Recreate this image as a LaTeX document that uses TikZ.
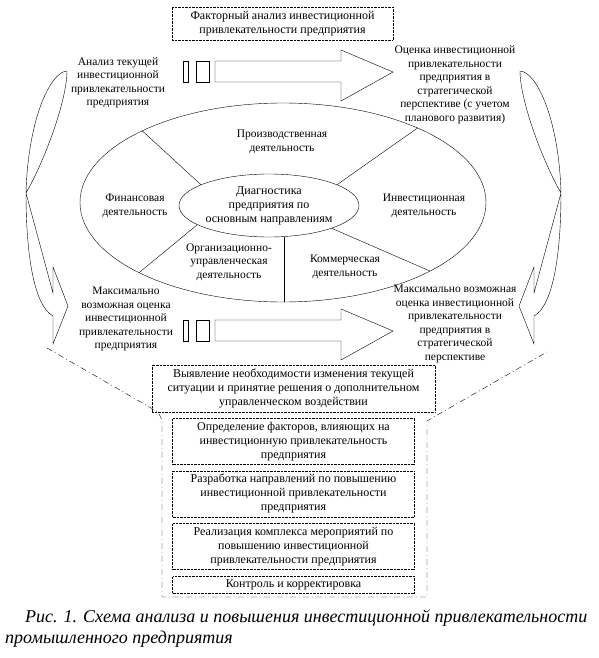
\documentclass[tikz,border=0pt]{standalone}
\usepackage{fontspec}
\setmainfont{Liberation Serif}
\usetikzlibrary{positioning, shapes.geometric}

\begin{document}
\begin{tikzpicture}[
    x=1pt, y=-1pt,
    node distance=6pt,
    txt/.style={
        align=center,
        inner sep=0pt,
        font=\fontsize{11.5}{13.5}\selectfont
    },
    dotbox/.style={
        draw,
        densely dotted,
        rectangle,
        align=center,
        inner sep=0pt,
        font=\fontsize{12}{14}\selectfont
    },
    stepbox/.style={
        dotbox,
        minimum width=242pt,
        minimum height=46pt
    },
    oval/.style={
        draw,
        ellipse,
        inner sep=0pt,
        align=center
    },
    blockarrow/.style={draw, line join=miter},
    frame/.style={dash pattern=on 6pt off 3pt on 1pt off 3pt}
]
\useasboundingbox (0,0) rectangle (599,658);

% Top block
\node[dotbox, minimum width=221pt, minimum height=33pt] (factor) at (282.5,23.5)
    {Факторный анализ инвестиционной\\привлекательности предприятия};

% Texts beside the arrows
\node[txt] (nowleft) at (118,83) {Анализ текущей\\инвестиционной\\привлекательности\\предприятия};
\node[txt] (planright) at (455,85) {Оценка инвестиционной\\привлекательности\\предприятия в\\стратегической\\перспективе (с учетом\\планового развития)};
\node[txt] (maxleft) at (126,319) {Максимально\\возможная оценка\\инвестиционной\\привлекательности\\предприятия};
\node[txt] (maxright) at (455,324) {Максимально возможная\\оценка инвестиционной\\привлекательности\\предприятия в\\стратегической\\перспективе};

% Block arrows
\foreach \y in {72,331} {
    \draw[blockarrow] (183,\y-11) rectangle (188,\y+10);
    \draw[blockarrow] (196,\y-11) rectangle (209,\y+10);
    \draw[blockarrow] (215,\y-11) -- (341,\y-11) -- (341,\y-22) -- (393,\y)
        -- (341,\y+29) -- (341,\y+10) -- (215,\y+10) -- cycle;
}

% Ellipses
\node[oval, minimum width=406pt, minimum height=199pt] (areas) at (283,202.5) {};
\node[oval, minimum width=180pt, minimum height=63pt, font=\fontsize{12}{14}\selectfont] (diag) at (269,205.5)
    {Диагностика\\предприятия по\\основным направлениям};

\draw (diag.163) -- (areas.153);
\draw (diag.17) -- (areas.29);
\draw (diag.195) -- (areas.206);
\draw (diag.340) -- (areas.335);
\draw (diag.296) -- (diag.296 |- areas.south);

\node[txt] (prod) at (282,142) {Производственная\\деятельность};
\node[txt] (fin) at (135,206) {Финансовая\\деятельность};
\node[txt] (inv) at (424,206) {Инвестиционная\\деятельность};
\node[txt] (org) at (229,262) {Организационно-\\управленческая\\деятельность};
\node[txt] (com) at (345,267) {Коммерческая\\деятельность};

% Curved arrows on both sides
\draw[line join=miter] (67,71) .. controls (50,72) and (28,120) .. (26,193)
    -- (53,293) -- (53,267) -- (68,306) -- (53,344) -- (53,316)
    .. controls (33,305) and (26,250) .. (26,193)
    .. controls (45,160) and (67,100) .. (67,71);
\begin{scope}[xshift=587pt, xscale=-1]
\draw[line join=miter] (67,71) .. controls (50,72) and (28,120) .. (26,193)
    -- (53,293) -- (53,267) -- (68,306) -- (53,344) -- (53,316)
    .. controls (33,305) and (26,250) .. (26,193)
    .. controls (45,160) and (67,100) .. (67,71);
\end{scope}

% Lower part
\node[dotbox, minimum width=283pt, minimum height=47pt] (reveal) at (293.5,388.5)
    {Выявление необходимости изменения текущей\\ситуации и принятие решения о дополнительном\\управленческом воздействии};
\node[stepbox, below=6pt of reveal] (step1) {Определение факторов, влияющих на\\инвестиционную привлекательность\\предприятия};
\node[stepbox, below=6pt of step1] (step2) {Разработка направлений по повышению\\инвестиционной привлекательности\\предприятия};
\node[stepbox, below=6pt of step2] (step3) {Реализация комплекса мероприятий по\\повышению инвестиционной\\привлекательности предприятия};
\node[stepbox, minimum height=17pt, below=7pt of step3] (step4) {Контроль и корректировка};

\draw[frame] (47,348) -- (158,412) -- (162,420) -- (162,597) -- (427,597)
    -- (427,421) -- (432,418) -- (547,352);

% Caption
\node[anchor=north west, align=left, inner sep=0pt,
      font=\fontsize{18}{21}\selectfont\itshape] (caption) at (5,609)
    {\hspace*{20pt}Рис. 1. Схема анализа и повышения инвестиционной привлекательности\\промышленного предприятия};

\end{tikzpicture}
\end{document}
